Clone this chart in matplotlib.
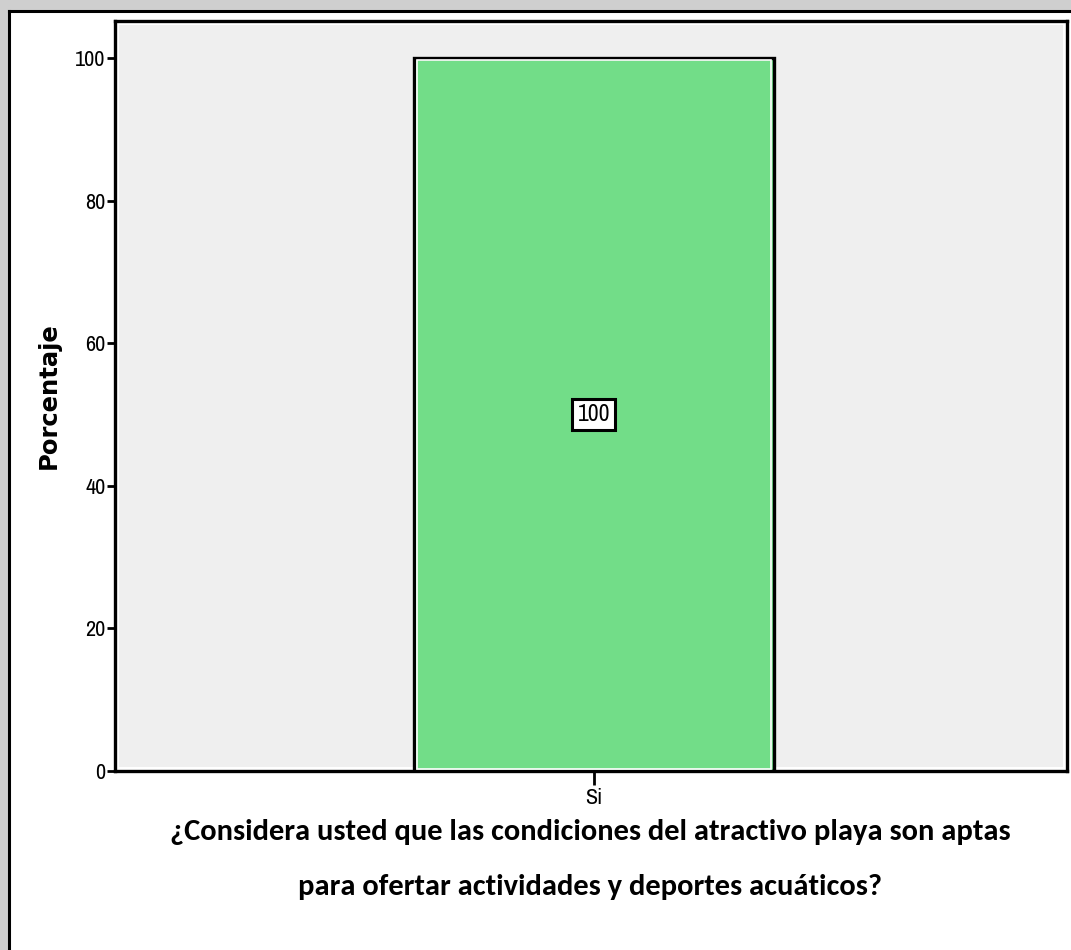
import matplotlib.pyplot as plt
from matplotlib.patches import Rectangle
from matplotlib.lines import Line2D

# data
categories = ['Si']
percent = [100]
yticks = [0, 20, 40, 60, 80, 100]
ylabel = 'Porcentaje'
xlabel_lines = ['¿Considera usted que las condiciones del atractivo playa son aptas',
                'para ofertar actividades y deportes acuáticos?']

narrow = ['Archivo Narrow', 'DejaVu Sans']

W, H = 1071, 950
fig = plt.figure(figsize=(W / 100, H / 100), dpi=100)
fig.patch.set_facecolor('white')

# shadow + frame of the pasted image
fig.patches.append(Rectangle((0, 0), 8 / W, 1, transform=fig.transFigure,
                             facecolor='#cfcfcf', edgecolor='none', zorder=0))
fig.patches.append(Rectangle((0, 1 - 10 / H), 1, 10 / H, transform=fig.transFigure,
                             facecolor='#cfcfcf', edgecolor='none', zorder=0))
fig.lines.append(Line2D([9 / W, 9 / W], [0, 1 - 11 / H], transform=fig.transFigure,
                        color='black', lw=2.2))
fig.lines.append(Line2D([9 / W, 1], [1 - 11 / H, 1 - 11 / H], transform=fig.transFigure,
                        color='black', lw=2.2))

ax = fig.add_axes([115 / W, 179 / H, 952 / W, 750 / H])
ax.set_facecolor('white')
# inner grey plotting area with thin white margin
ax.add_patch(Rectangle((0.004, 0.005), 0.992, 0.99, transform=ax.transAxes,
                       facecolor='#efefef', edgecolor='none', zorder=0))

x = list(range(len(categories)))
ax.bar(x, percent, width=0.378, color='#72dd88', edgecolor='black',
       linewidth=2.4, zorder=2)
# white inner outline of the bar
ax.bar(x, [p - 0.6 for p in percent], width=0.372, bottom=0.3, color='none',
       edgecolor='white', linewidth=1.2, zorder=3)

for xi, p in zip(x, percent):
    ax.text(xi, p / 2, f'{p}', ha='center', va='center', fontsize=17,
            family=narrow, zorder=5,
            bbox=dict(boxstyle='square,pad=0.22', facecolor='white',
                      edgecolor='black', linewidth=2.2))

ax.set_xlim(-0.503, 0.497)
ax.set_ylim(0, 105.2)
ax.set_yticks(yticks)
ax.set_xticks(x)
ax.set_xticklabels(categories)
for s in ax.spines.values():
    s.set_linewidth(2.4)
    s.set_color('black')
ax.tick_params(axis='y', direction='out', length=6, width=2, pad=1, labelsize=16)
ax.tick_params(axis='x', direction='out', length=10, width=2, pad=2, labelsize=16)
for lab in ax.get_xticklabels() + ax.get_yticklabels():
    lab.set_family(narrow)

ax.set_ylabel(ylabel, fontsize=17.5, fontweight='bold',
              family=['DejaVu Sans'], labelpad=10)

fig.text(590 / W, 1 - 832 / H, xlabel_lines[0], ha='center', va='center',
         fontsize=22, fontweight='bold', family=['Carlito', 'DejaVu Sans'])
fig.text(590 / W, 1 - 887 / H, xlabel_lines[1], ha='center', va='center',
         fontsize=22, fontweight='bold', family=['Carlito', 'DejaVu Sans'])

fig.savefig('out.png', dpi=100)
